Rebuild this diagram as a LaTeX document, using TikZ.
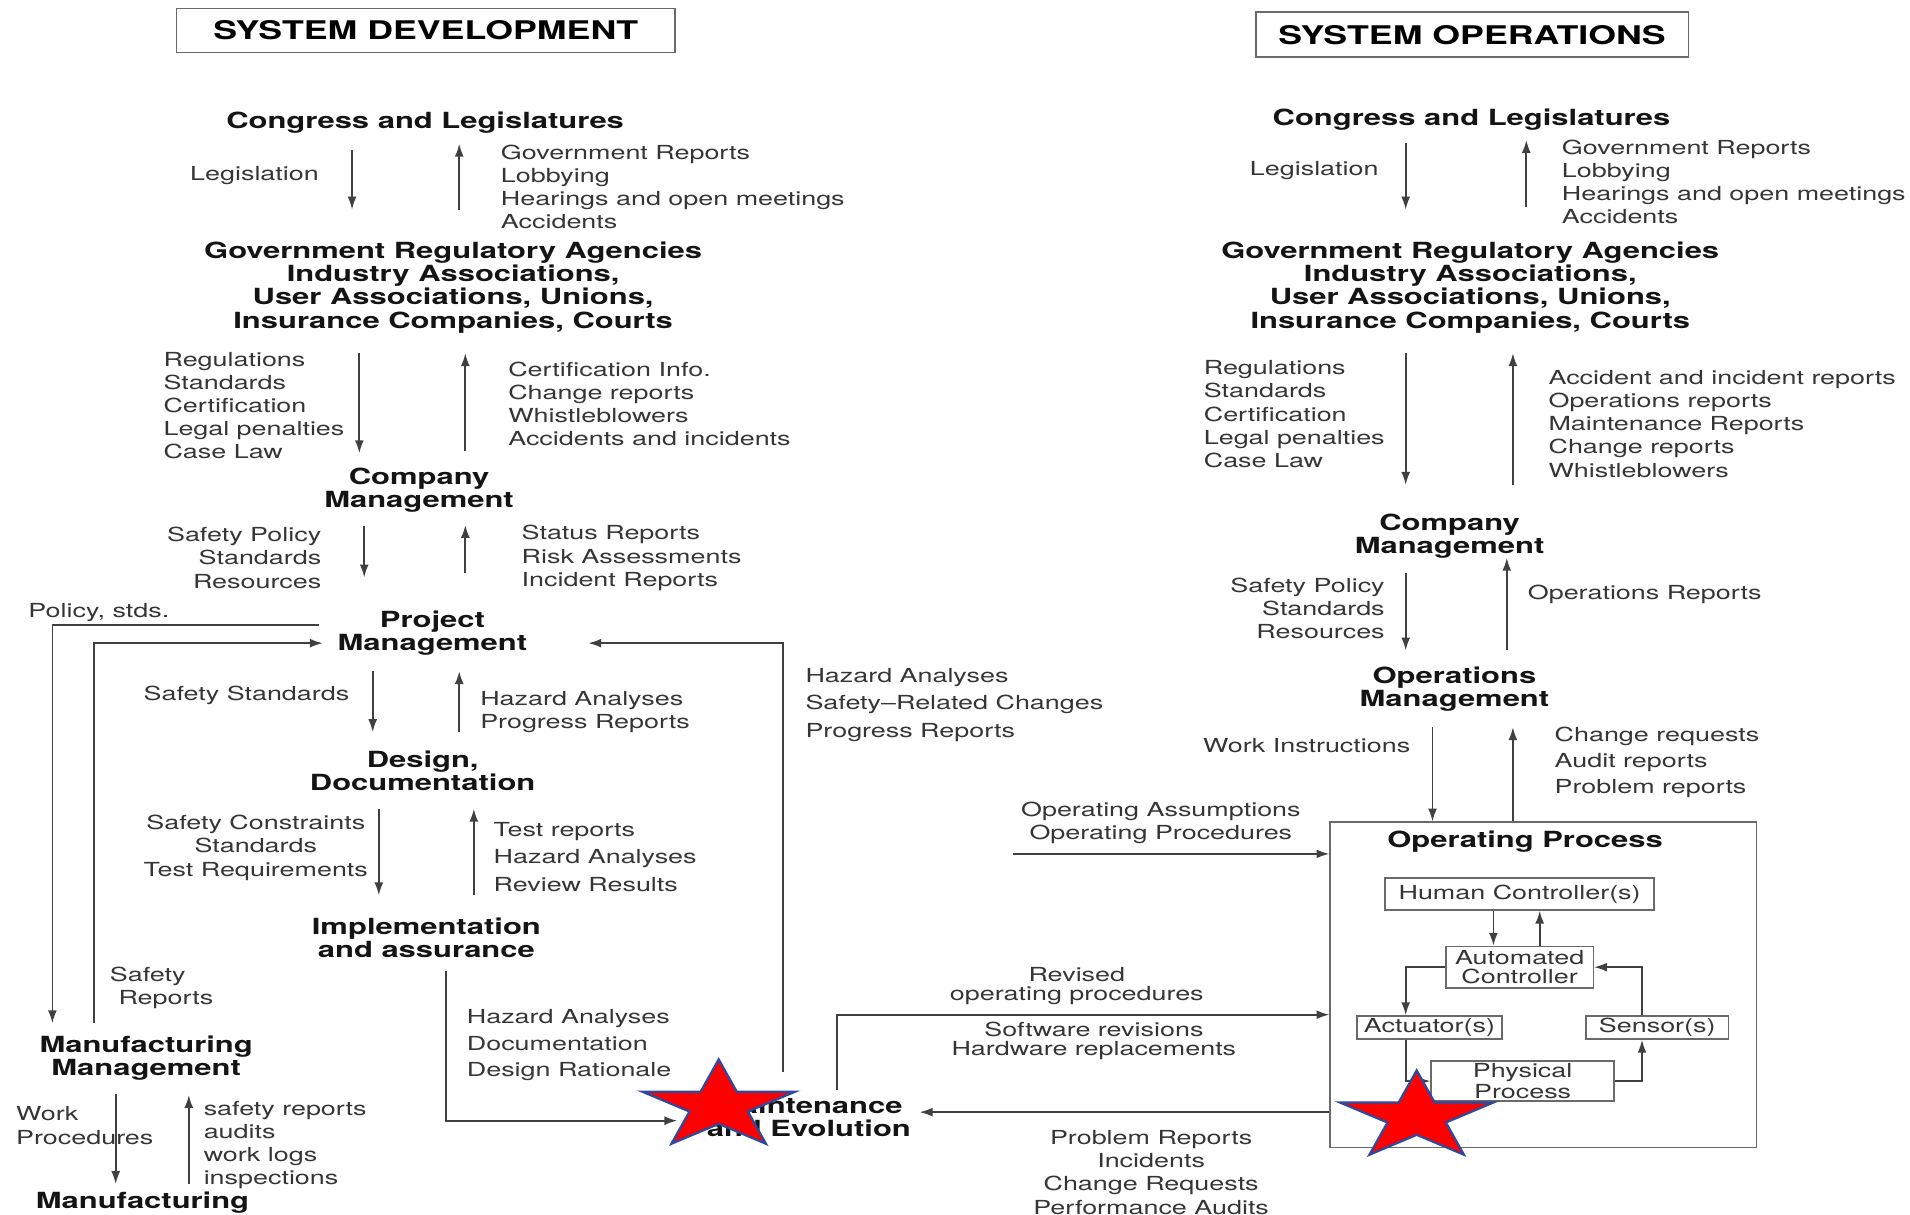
\documentclass[tikz,border=0pt]{standalone}
\usepackage{fontspec}
\setmainfont{TeX Gyre Heros}[FakeStretch=1.39]
\usetikzlibrary{arrows.meta}

\definecolor{txtgray}{HTML}{353535}
\definecolor{linegray}{HTML}{404040}
\definecolor{boxgray}{HTML}{6A6A6A}
\definecolor{starblue}{HTML}{2E4A9E}

\begin{document}
\begin{tikzpicture}[x=0.025cm, y=-0.025cm,
    lvl/.style={font=\fontsize{13}{13.5}\selectfont\bfseries, text=black!92, align=center, inner sep=0pt},
    lab/.style={font=\fontsize{11.3}{13.5}\selectfont, text=txtgray, inner sep=0pt},
    titlebox/.style={draw=boxgray, line width=0.9pt, font=\fontsize{15}{16}\selectfont\bfseries, inner sep=0pt},
    pbox/.style={draw=boxgray, line width=0.9pt, inner sep=0pt, align=center,
                 font=\fontsize{11.3}{10.7}\selectfont, text=txtgray},
    arr/.style={draw=linegray, line width=1pt, -{Latex[length=7.5pt,width=5.2pt]}}]

    \useasboundingbox (0,0) rectangle (1568,997);

    % titles
    \node[titlebox, minimum width=10.225cm, minimum height=0.9cm] (sdev) at (349.5,25) {SYSTEM DEVELOPMENT};
    \node[titlebox, minimum width=8.875cm, minimum height=0.925cm] (sops) at (1208.5,28.5) {SYSTEM OPERATIONS};

    % ---- system development ----
    \node[lvl] (cong1) at (349,101) {Congress and Legislatures};
    \node[lab, anchor=east] (legis1) at (262,144) {Legislation};
    \node[lab, anchor=west, align=left] (grep1) at (411,153.5) {Government Reports\\Lobbying\\Hearings and open meetings\\Accidents};

    \node[lvl] (gov1) at (372,236) {Government Regulatory Agencies\\Industry Associations,\\User Associations, Unions,\\Insurance Companies, Courts};
    \node[lab, anchor=west, align=left] (regs1) at (134,333) {Regulations\\Standards\\Certification\\Legal penalties\\Case Law};
    \node[lab, anchor=west, align=left] (cert1) at (417,331.5) {Certification Info.\\Change reports\\Whistleblowers\\Accidents and incidents};

    \node[lvl] (comp1) at (344,402.5) {Company\\Management};
    \node[lab, anchor=east, align=right] (spol1) at (264,458) {Safety Policy\\Standards\\Resources};
    \node[lab, anchor=west, align=left] (stat1) at (428,458) {Status Reports\\Risk Assessments\\Incident Reports};

    \node[lab, anchor=west] (polstd) at (23,503) {Policy, stds.};
    \node[lvl] (proj) at (355,520) {Project\\Management};
    \node[lab, anchor=east] (sstd) at (287,571) {Safety Standards};
    \node[lab, anchor=west, align=left] (hazp) at (394,584.5) {Hazard Analyses\\Progress Reports};
    \node[lab, anchor=west, align=left, font=\fontsize{11.3}{16}\selectfont] (hazm) at (661,578.5) {Hazard Analyses\\Safety--Related Changes\\Progress Reports};

    \node[lvl] (des) at (347,633) {Design,\\Documentation};
    \node[lab, align=center] (scon) at (210,696) {Safety Constraints\\Standards\\Test Requirements};
    \node[lab, anchor=west, align=left, font=\fontsize{11.3}{16}\selectfont] (trep) at (405,703.5) {Test reports\\Hazard Analyses\\Review Results};

    \node[lvl] (impl) at (350,770) {Implementation\\and assurance};
    \node[lab, anchor=west, align=left, font=\fontsize{11.3}{15.7}\selectfont] (hazd) at (383,858) {Hazard Analyses\\Documentation\\Design Rationale};
    \node[lab, anchor=west, align=left] (srep) at (90,811) {Safety\\\hspace{5pt}Reports};

    \node[lvl] (mfgm) at (120,869) {Manufacturing\\Management};
    \node[lab, anchor=west, align=left] (wproc) at (13,924) {Work\\Procedures};
    \node[lab, anchor=west, align=left] (audit) at (167,940) {safety reports\\audits\\work logs\\inspections};
    \node[lvl] (mfg) at (117,987) {Manufacturing};

    \node[lvl] (maint) at (664,917) {Maintenance\\and Evolution};

    % ---- system operations ----
    \node[lvl] (cong2) at (1208,98) {Congress and Legislatures};
    \node[lab, anchor=east] (legis2) at (1132,140) {Legislation};
    \node[lab, anchor=west, align=left] (grep2) at (1282,149.5) {Government Reports\\Lobbying\\Hearings and open meetings\\Accidents};

    \node[lvl] (gov2) at (1207,236) {Government Regulatory Agencies\\Industry Associations,\\User Associations, Unions,\\Insurance Companies, Courts};
    \node[lab, anchor=west, align=left] (regs2) at (988,340) {Regulations\\Standards\\Certification\\Legal penalties\\Case Law};
    \node[lab, anchor=west, align=left] (acc2) at (1271,348) {Accident and incident reports\\Operations reports\\Maintenance Reports\\Change reports\\Whistleblowers};

    \node[lvl] (comp2) at (1190,440.5) {Company\\Management};
    \node[lab, anchor=east, align=right] (spol2) at (1137,499.5) {Safety Policy\\Standards\\Resources};
    \node[lab, anchor=west] (oprep) at (1254,488) {Operations Reports};

    \node[lvl] (opsm) at (1194,565.5) {Operations\\Management};
    \node[lab, anchor=east] (winst) at (1158,612) {Work Instructions};
    \node[lab, anchor=west, align=left, font=\fontsize{11.3}{15.3}\selectfont] (creq) at (1276,626) {Change requests\\Audit reports\\Problem reports};
    \node[lab, align=center] (opas) at (953,675.5) {Operating Assumptions\\Operating Procedures};

    \node[lab, align=center, font=\fontsize{11.3}{10.7}\selectfont] (revp) at (884,809.5) {Revised\\operating procedures};
    \node[lab, align=center, font=\fontsize{11.3}{10.7}\selectfont] (swrev) at (898,854.5) {Software revisions\\Hardware replacements};
    \node[lab, align=center] (prob) at (945,962.5) {Problem Reports\\Incidents\\Change Requests\\Performance Audits};

    % operating process
    \node[pbox, minimum width=8.75cm, minimum height=6.675cm] (opp) at (1267,808.5) {};
    \node[lvl] (opptitle) at (1252,691) {Operating Process};
    \node[pbox, minimum width=5.525cm, minimum height=0.65cm] (hum) at (1247.5,734) {Human Controller(s)};
    \node[pbox, minimum width=3.025cm, minimum height=0.85cm] (auto) at (1247.5,794) {Automated\\Controller};
    \node[pbox, minimum width=2.975cm, minimum height=0.475cm] (act) at (1173.5,843.5) {Actuator(s)};
    \node[pbox, minimum width=2.925cm, minimum height=0.475cm] (sens) at (1360.5,843.5) {Sensor(s)};
    \node[pbox, minimum width=3.75cm, minimum height=0.825cm] (phys) at (1250,887.5) {Physical\\Process};

    % control and feedback arrows between levels
    \foreach \n/\x/\ya/\yb in {d1/289/123/172, u1/377/172/118, d2/295/290/372, u2/382/370/290,
        d3/299/432/474, u3/382/470/431, d4/306/551/601, u4/377/601/551,
        d5/311/664/735, u5/389/735/664, d6/95/898/972, u6/155/972/899,
        e1/1154/117/172, v1/1253/170/115, e2/1154/290/398, v2/1242/398/290,
        e3/1154/470/534, v3/1237/534/458}
      {\coordinate (\n-s) at (\x,\ya); \coordinate (\n-e) at (\x,\yb); \draw[arr] (\n-s) -- (\n-e);}

    \coordinate (wi) at (1176,597);
    \coordinate (cr) at (1242,597);
    \draw[arr] (wi) -- (wi |- opp.north);
    \draw[arr] (cr |- opp.north) -- (cr);

    % loops round the development side
    \coordinate (pol0) at (262,513);
    \coordinate (pol1) at (43,840);
    \draw[arr] (pol0) -| (pol1);
    \coordinate (sr0) at (77,840);
    \coordinate (sr1) at (265,528);
    \draw[arr] (sr0) |- (sr1);
    \coordinate (me0) at (643,880);
    \coordinate (me1) at (483,528);
    \draw[arr] (me0) |- (me1);
    \coordinate (im0) at (366,797);
    \coordinate (im1) at (556,920);
    \draw[arr] (im0) |- (im1);

    % maintenance <-> operating process
    \coordinate (mtop) at (687,895);
    \draw[arr] (mtop) |- (opp.west |- 0,833);
    \coordinate (mret) at (755,913);
    \draw[arr] (opp.west |- mret) -- (mret);
    \coordinate (oa0) at (832,701);
    \draw[arr] (oa0) -- (opp.west |- oa0);

    % inside the operating process
    \draw[arr] (1226,0 |- hum.south) -- (1226,0 |- auto.north);
    \draw[arr] (1264,0 |- auto.north) -- (1264,0 |- hum.south);
    \draw[arr] (auto.west) -| (1154,0 |- act.north);
    \draw[arr] (1154,0 |- act.south) |- (phys.west);
    \draw[arr] (phys.east) -| (1348,0 |- sens.south);
    \draw[arr] (1348,0 |- sens.north) |- (auto.east);

    % stars
    \foreach \sx/\sy in {590/908, 1163/917}
      \filldraw[fill=red, draw=starblue, line width=1.3pt, shift={(\sx,\sy)}, yscale=0.58]
        (-90:66) -- (-54:25.2) -- (-18:66) -- (18:25.2) -- (54:66) -- (90:25.2)
        -- (126:66) -- (162:25.2) -- (198:66) -- (234:25.2) -- cycle;

\end{tikzpicture}
\end{document}
